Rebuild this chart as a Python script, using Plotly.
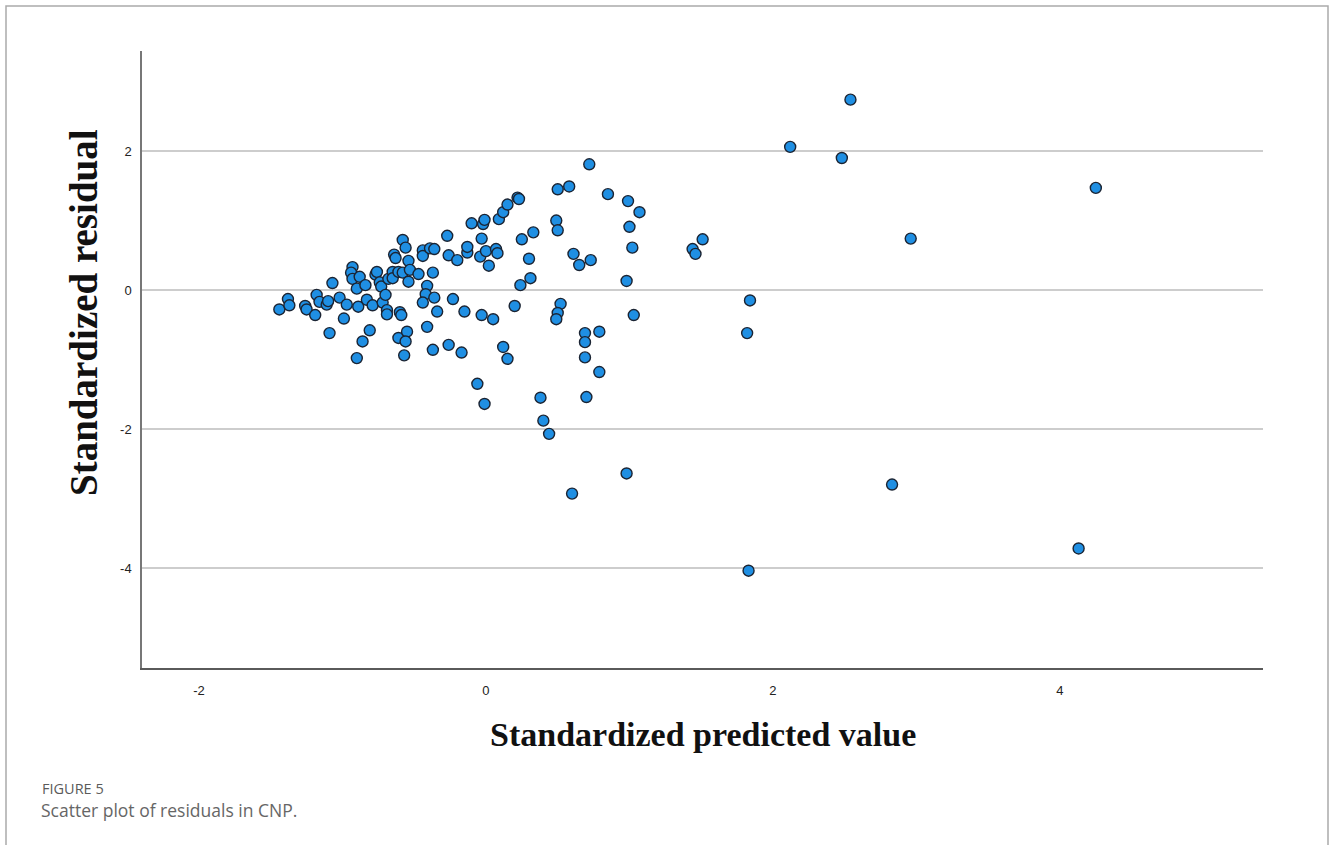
import plotly.graph_objects as go

# ---------------- data ----------------
predicted = [
    -1.44, -1.38, -1.37, -1.26, -1.25, -1.19, -1.18, -1.16, -1.11, -1.10,
    -1.09, -1.07, -1.02, -0.99, -0.97, -0.93, -0.94, -0.93, -0.90, -0.89,
    -0.88, -0.84, -0.83, -0.86, -0.81, -0.79, -0.90, -0.77, -0.76, -0.74,
    -0.73, -0.72, -0.70, -0.69, -0.69, -0.68, -0.65, -0.65, -0.64, -0.63,
    -0.61, -0.60, -0.59, -0.61, -0.58, -0.58, -0.56, -0.55, -0.56, -0.57,
    -0.54, -0.54, -0.53,
    -0.47, -0.44, -0.44, -0.39, -0.36, -0.37, -0.41, -0.42, -0.44, -0.36,
    -0.34, -0.41, -0.27, -0.26, -0.23, -0.20, -0.15, -0.13, -0.13, -0.10,
    -0.03, -0.04, -0.02, -0.01, -0.03, 0.00, 0.02, 0.05, 0.07, 0.08,
    0.09, 0.12, 0.15, 0.22, 0.23, 0.20, 0.24, 0.25, 0.30, 0.31, 0.33,
    -0.37, -0.26, -0.17, -0.06, -0.01, 0.12, 0.15, 0.38, 0.40, 0.44,
    0.72, 0.50, 0.58, 0.85, 0.99, 1.07, 0.49, 0.50, 1.00, 1.02,
    0.61, 0.65, 0.73, 0.98, 1.44, 1.46, 0.52,
    0.50, 0.49, 1.03, 0.69, 0.79, 0.69, 0.69, 0.79, 0.70, 0.98, 0.60,
    2.54, 2.12, 2.48, 4.25, 1.51, 2.96, 1.84, 1.82, 2.83, 4.13, 1.83,
]
residual = [
    -0.28, -0.13, -0.22, -0.23, -0.28, -0.36, -0.07, -0.17, -0.21, -0.16,
    -0.62, 0.10, -0.11, -0.41, -0.21, 0.33, 0.25, 0.16, 0.02, -0.24,
    0.19, 0.07, -0.14, -0.74, -0.58, -0.22, -0.98, 0.22, 0.26, 0.11,
    0.05, -0.18, -0.07, -0.29, -0.35, 0.16, 0.26, 0.17, 0.51, 0.46,
    0.26, -0.32, -0.36, -0.69, 0.25, 0.72, 0.61, -0.60, -0.74, -0.94,
    0.42, 0.12, 0.29,
    0.23, 0.57, 0.49, 0.60, 0.59, 0.25, 0.06, -0.06, -0.18, -0.11,
    -0.31, -0.53, 0.78, 0.50, -0.13, 0.43, -0.31, 0.54, 0.62, 0.96,
    -0.36, 0.48, 0.95, 1.01, 0.74, 0.56, 0.35, -0.42, 0.59, 0.53,
    1.02, 1.12, 1.23, 1.33, 1.31, -0.23, 0.07, 0.73, 0.45, 0.17, 0.83,
    -0.86, -0.79, -0.90, -1.35, -1.64, -0.82, -0.99, -1.55, -1.88, -2.07,
    1.81, 1.45, 1.49, 1.38, 1.28, 1.12, 1.00, 0.86, 0.91, 0.61,
    0.52, 0.36, 0.43, 0.13, 0.59, 0.52, -0.20,
    -0.33, -0.42, -0.36, -0.62, -0.60, -0.75, -0.97, -1.18, -1.54, -2.64, -2.93,
    2.74, 2.06, 1.90, 1.47, 0.73, 0.74, -0.15, -0.62, -2.80, -3.72, -4.04,
]

x_ticks = [-2, 0, 2, 4]
x_tick_labels = ["-2", "0", "2", "4"]
y_ticks = [-4, -2, 0, 2]
y_tick_labels = ["-4", "-2", "0", "2"]

x_title = "Standardized predicted value"
y_title = "Standardized residual"
fig_label = "FIGURE 5"
fig_caption = "Scatter plot of residuals in CNP."

# ---------------- layout geometry (pixels) ----------------
W, H = 1330, 845
PL, PR, PT, PB = 142, 1263, 51, 668   # plot area edges


def px_x(px):
    return (px - PL) / (PR - PL)


def px_y(py):
    return (PB - py) / (PB - PT)


fig = go.Figure()
fig.add_trace(go.Scatter(
    x=predicted, y=residual, mode="markers",
    marker=dict(size=11, color="#1f8fe3",
                line=dict(color="#1b2433", width=1.4)),
    showlegend=False, hoverinfo="x+y",
))

fig.update_layout(
    width=W, height=H,
    margin=dict(l=PL, r=W - PR, t=PT, b=H - PB, pad=0),
    paper_bgcolor="white", plot_bgcolor="white",
    font=dict(family="Liberation Sans, Arial, sans-serif", size=13, color="#222"),
    xaxis=dict(
        range=[-2.397, 5.415], tickvals=x_ticks, ticktext=x_tick_labels,
        showgrid=False, zeroline=False,
        showline=True, linecolor="#5a5a5a", linewidth=1.5,
        ticks="outside", ticklen=10, tickcolor="rgba(0,0,0,0)",
        tickfont=dict(size=13, color="#222"),
    ),
    yaxis=dict(
        range=[-5.44, 3.44], tickvals=y_ticks, ticktext=y_tick_labels,
        showgrid=True, gridcolor="#cdcdcd", gridwidth=1.6, zeroline=False,
        showline=True, linecolor="#777777", linewidth=1.5,
        ticks="outside", ticklen=6, tickcolor="rgba(0,0,0,0)",
        tickfont=dict(size=13, color="#222"),
    ),
)

# axis titles
fig.add_annotation(
    text="<b>" + y_title + "</b>", textangle=-90,
    xref="paper", yref="paper", x=px_x(83), y=px_y(313),
    xanchor="center", yanchor="middle", showarrow=False,
    font=dict(family="Liberation Serif, Times New Roman, serif", size=39, color="#111"),
)
fig.add_annotation(
    text="<b>" + x_title + "</b>",
    xref="paper", yref="paper", x=px_x(703), y=px_y(734),
    xanchor="center", yanchor="middle", showarrow=False,
    font=dict(family="Liberation Serif, Times New Roman, serif", size=34, color="#111"),
)

# caption
fig.add_annotation(
    text=fig_label, xref="paper", yref="paper", x=px_x(40), y=px_y(788),
    xanchor="left", yanchor="middle", showarrow=False,
    font=dict(family="Open Sans, sans-serif", size=14.5, color="#5a5a5a"),
)
fig.add_annotation(
    text=fig_caption, xref="paper", yref="paper", x=px_x(39), y=px_y(810),
    xanchor="left", yanchor="middle", showarrow=False,
    font=dict(family="Open Sans, sans-serif", size=17.5, color="#666"),
)

# outer frame
fig.add_shape(
    type="rect", xref="paper", yref="paper",
    x0=px_x(6), x1=px_x(1328), y0=px_y(900), y1=px_y(6),
    line=dict(color="#aaaaaa", width=1.5), fillcolor="rgba(0,0,0,0)",
    layer="below",
)

fig.write_html(
    "out.html",
    config={"displayModeBar": False},
    post_script="document.body.style.margin='0';document.body.style.overflow='hidden';",
)
